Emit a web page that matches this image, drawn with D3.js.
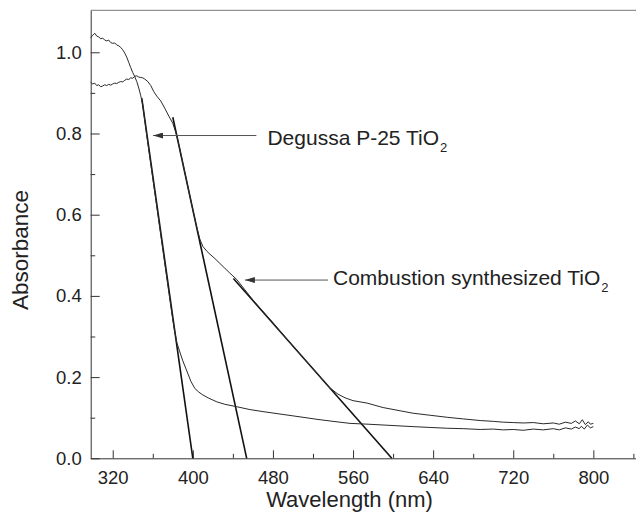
<!DOCTYPE html>
<html>
<head>
<meta charset="utf-8">
<script src="https://cdn.jsdelivr.net/npm/d3@7"></script>
<style>
  body { margin: 0; background: #fff; }
  svg { display: block; }
  .tick text { font-family: "Liberation Sans", Arial, sans-serif; fill: #222; }
</style>
</head>
<body>
<div id="container"></div>
<script>
// absorbance spectra: [wavelength nm, absorbance]
var p25 = [[298,1.036],[300,1.042],[302,1.047],[304,1.040],[306,1.038],[308,1.033],[310,1.035],[312,1.030],
  [314,1.028],[316,1.030],[318,1.024],[320,1.022],[322,1.023],[324,1.018],[326,1.016],[328,1.012],[330,1.006],
  [332,0.998],[334,0.988],[336,0.975],[338,0.962],[340,0.950],[342,0.940],[344,0.928],[346,0.912],[348,0.893],
  [350,0.870],[354,0.795],[358,0.725],[362,0.655],[366,0.585],[370,0.515],[374,0.445],[378,0.375],[381,0.325],
  [384,0.285],[387,0.262],[390,0.240],[394,0.215],[398,0.190],[402,0.172],[406,0.163],[410,0.156],[416,0.148],
  [424,0.139],[432,0.133],[444,0.127],[457,0.120],[470,0.115],[490,0.108],[510,0.101],[524,0.096],[540,0.091],
  [557,0.086],[575,0.084],[590,0.082],[605,0.080],[620,0.078],[637,0.076],[654,0.074],[670,0.073],[687,0.071],
  [700,0.072],[710,0.070],[720,0.071],[730,0.069],[740,0.072],[750,0.070],[760,0.073],[766,0.070],[772,0.075],
  [778,0.072],[782,0.077],[786,0.073],[788,0.079],[791,0.072],[794,0.082],[797,0.075],[800,0.078]];

var combustion = [[298,0.926],[300,0.922],[302,0.924],[304,0.918],[306,0.920],[308,0.915],[310,0.917],[312,0.920],
  [314,0.918],[316,0.921],[318,0.919],[320,0.922],[322,0.924],[324,0.923],[326,0.926],[328,0.928],[330,0.927],
  [332,0.931],[334,0.934],[336,0.933],[338,0.937],[340,0.936],[342,0.941],[344,0.942],[346,0.939],[348,0.938],
  [350,0.937],[352,0.934],[355,0.928],[358,0.918],[361,0.903],[364,0.892],[368,0.880],[372,0.862],[376,0.843],
  [380,0.825],[384,0.795],[388,0.750],[392,0.704],[396,0.658],[400,0.612],[404,0.568],[407,0.540],[410,0.522],
  [414,0.510],[417,0.503],[422,0.492],[427,0.480],[432,0.468],[437,0.456],[444,0.440],[452,0.415],[460,0.390],
  [470,0.362],[480,0.334],[490,0.305],[500,0.276],[510,0.248],[520,0.221],[530,0.192],[537,0.173],[545,0.158],
  [552,0.149],[560,0.142],[574,0.136],[590,0.125],[607,0.117],[620,0.111],[637,0.106],[654,0.101],[670,0.097],
  [687,0.093],[700,0.091],[710,0.089],[720,0.088],[730,0.087],[740,0.088],[750,0.085],[760,0.087],[766,0.084],
  [772,0.089],[778,0.086],[782,0.092],[786,0.085],[789,0.095],[792,0.083],[795,0.090],[797,0.084],[800,0.086]];

// band edge tangents
var tangents = [
  [[349,0.887],[400,0]],
  [[380,0.840],[453.8,0]],
  [[440.5,0.443],[598.7,0]]
];

var xMajor = [320,400,480,560,640,720,800];
var xMinor = [360,440,520,600,680,760,840];
var yMajor = [0,0.2,0.4,0.6,0.8,1.0];
var yMinor = [0.1,0.3,0.5,0.7,0.9];

// arrow labels: tip and tail in data units
var notes = [
  {label:"Degussa P-25 TiO", sub:"2", tip:[360.3,0.795], tail:[463.5,0.795], text:[474.5,0.771]},
  {label:"Combustion synthesized TiO", sub:"2", tip:[452,0.439], tail:[535,0.439], text:[540,0.427]}
];

var width = 636, height = 519;
var font = '"Liberation Sans", Arial, sans-serif';

var svg = d3.select("#container").append("svg")
  .attr("width", width)
  .attr("height", height);

var x = d3.scaleLinear().domain([298, 850]).range([90.7, 643.4]);
var y = d3.scaleLinear().domain([0, 1.1034]).range([458.3, 10.3]);

// top frame
svg.append("line")
  .attr("x1", x(298)).attr("x2", width)
  .attr("y1", y(1.1034)).attr("y2", y(1.1034))
  .attr("stroke", "#777").attr("stroke-width", 1);

var xAxis = svg.append("g")
  .attr("transform", "translate(0," + y(0) + ")")
  .call(d3.axisBottom(x).tickValues(xMajor).tickSizeInner(-8).tickSizeOuter(0).tickPadding(13));
xAxis.selectAll("text").style("font-size", "18.5px");

svg.append("g")
  .attr("transform", "translate(0," + y(0) + ")")
  .call(d3.axisBottom(x).tickValues(xMinor).tickSize(-4.5).tickFormat(""))
  .select(".domain").remove();

var yAxis = svg.append("g")
  .attr("transform", "translate(" + x(298) + ",0)")
  .call(d3.axisLeft(y).tickValues(yMajor).tickSizeInner(-9).tickSizeOuter(0).tickPadding(9)
    .tickFormat(d3.format(".1f")));
yAxis.selectAll("text").style("font-size", "18.5px");

svg.append("g")
  .attr("transform", "translate(" + x(298) + ",0)")
  .call(d3.axisLeft(y).tickValues(yMinor).tickSize(-4.5).tickFormat(""))
  .select(".domain").remove();

svg.selectAll(".domain, .tick line").attr("stroke", "#333");

// axis titles
svg.append("text")
  .attr("x", 349.5)
  .attr("y", 507)
  .attr("text-anchor", "middle")
  .style("font-family", font)
  .style("font-size", "22px")
  .style("fill", "#222")
  .text("Wavelength (nm)");

svg.append("text")
  .attr("transform", "translate(28,250) rotate(-90)")
  .attr("text-anchor", "middle")
  .style("font-family", font)
  .style("font-size", "22.5px")
  .style("fill", "#222")
  .text("Absorbance");

var line = d3.line()
  .x(function(d) {return x(d[0]);})
  .y(function(d) {return y(d[1]);});

// tangent lines
svg.selectAll(".tangent").data(tangents).enter()
  .append("path")
  .attr("class", "tangent")
  .attr("d", line)
  .attr("fill", "none")
  .attr("stroke", "#111")
  .attr("stroke-width", 1.6);

// spectra
svg.selectAll(".spectrum").data([p25, combustion]).enter()
  .append("path")
  .attr("class", "spectrum")
  .attr("d", line)
  .attr("fill", "none")
  .attr("stroke", "#2a2a2a")
  .attr("stroke-width", 1);

// arrowhead
svg.append("defs").append("marker")
  .attr("id", "arrowhead")
  .attr("viewBox", "0 0 10 6")
  .attr("refX", 0)
  .attr("refY", 3)
  .attr("markerWidth", 10)
  .attr("markerHeight", 6)
  .attr("markerUnits", "userSpaceOnUse")
  .attr("orient", "auto")
  .append("path")
  .attr("d", "M 0 3 L 10 0 L 10 6 Z")
  .style("fill", "#333");

notes.forEach(function(n) {
  svg.append("line")
    .attr("x1", x(n.tip[0])).attr("y1", y(n.tip[1]))
    .attr("x2", x(n.tail[0])).attr("y2", y(n.tail[1]))
    .attr("stroke", "#555")
    .attr("stroke-width", 1)
    .attr("marker-start", "url(#arrowhead)");

  var t = svg.append("text")
    .attr("x", x(n.text[0]))
    .attr("y", y(n.text[1]))
    .style("font-family", font)
    .style("font-size", "21px")
    .style("fill", "#222")
    .text(n.label);
  t.append("tspan")
    .attr("dx", 1)
    .attr("dy", 7)
    .style("font-size", "13px")
    .text(n.sub);
});
</script>
</body>
</html>
